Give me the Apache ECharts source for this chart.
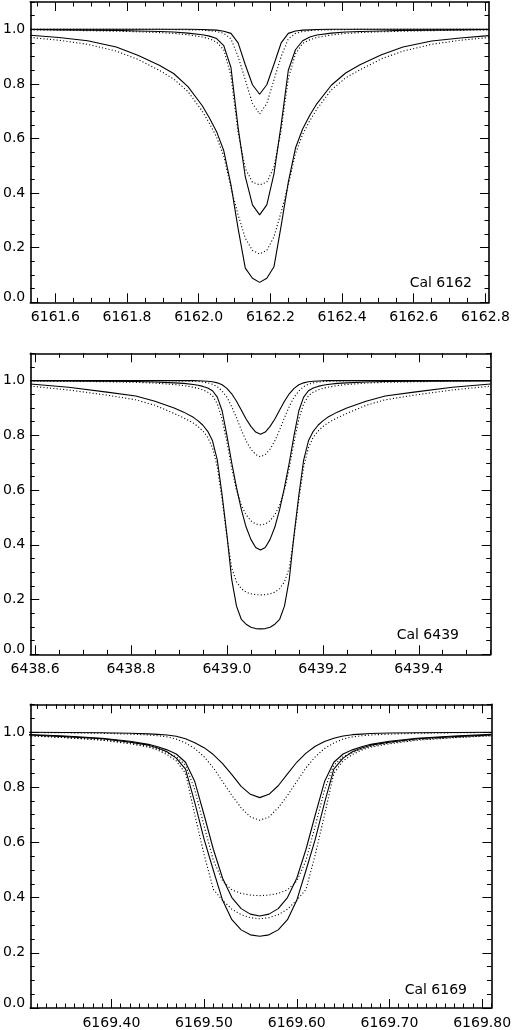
<!DOCTYPE html>
<html><head><meta charset="utf-8">
<script src="https://cdn.jsdelivr.net/npm/echarts@6/dist/echarts.min.js"></script>
<style>html,body{margin:0;padding:0;background:#fff}#c{width:514px;height:1030px}</style>
</head><body><div id="c"></div>
<script>
// ---------- Panel 1: Cal 6162 ----------
const cal6162Wave = [6161.53, 6161.61, 6161.69, 6161.77, 6161.83, 6161.89, 6161.93, 6161.97, 6162.01, 6162.03, 6162.05, 6162.07, 6162.09, 6162.11, 6162.13, 6162.15, 6162.17, 6162.19, 6162.21, 6162.23, 6162.25, 6162.27, 6162.29, 6162.31, 6162.33, 6162.37, 6162.41, 6162.45, 6162.51, 6162.57, 6162.65, 6162.73, 6162.81];
const cal6162SolidA = [1.000,1.000,1.000,1.000,1.000,1.000,1.000,1.000, 0.999,0.998,0.997,0.993,0.985,0.950,0.870,0.797, 0.762, 0.797,0.872,0.950,0.985,0.994,0.997,0.998,0.999, 1.000,1.000,1.000,1.000,1.000,1.000,1.000,1.000];
const cal6162DottedA = [1.000,1.000,1.000,1.000,1.000,1.000,0.999,0.998, 0.997,0.995,0.992,0.985,0.965,0.900,0.815,0.728, 0.690, 0.728,0.815,0.900,0.965,0.985,0.992,0.995,0.997, 0.998,0.999,1.000,1.000,1.000,1.000,1.000,1.000];
const cal6162SolidB = [0.999,0.998,0.997,0.996,0.994,0.992,0.990,0.986, 0.980,0.975,0.966,0.940,0.860,0.640,0.460,0.357, 0.320, 0.357,0.470,0.650,0.850,0.925,0.958,0.972,0.979, 0.986,0.990,0.992,0.994,0.996,0.997,0.998,0.999];
const cal6162DottedB = [0.998,0.997,0.995,0.993,0.991,0.988,0.985,0.980, 0.972,0.965,0.953,0.925,0.830,0.620,0.490,0.440, 0.430, 0.440,0.495,0.630,0.820,0.910,0.948,0.962,0.970, 0.979,0.985,0.988,0.991,0.993,0.995,0.997,0.998];
const cal6162SolidC = [0.978,0.970,0.958,0.935,0.905,0.868,0.838,0.790, 0.720,0.675,0.625,0.555,0.430,0.270,0.125,0.088, 0.073, 0.088,0.130,0.280,0.440,0.565,0.635,0.685,0.728, 0.795,0.840,0.870,0.907,0.935,0.957,0.968,0.977];
const cal6162DottedC = [0.970,0.960,0.945,0.920,0.890,0.850,0.818,0.772, 0.700,0.655,0.605,0.535,0.420,0.320,0.235,0.190, 0.177, 0.190,0.240,0.330,0.430,0.545,0.615,0.665,0.708, 0.778,0.822,0.852,0.892,0.920,0.945,0.960,0.970];
const cal6162XTicks = [6161.6, 6161.8, 6162.0, 6162.2, 6162.4, 6162.6, 6162.8];

// ---------- Panel 2: Cal 6439 ----------
const cal6439Wave = [6438.59, 6438.67, 6438.75, 6438.81, 6438.85, 6438.89, 6438.91, 6438.93, 6438.94, 6438.95, 6438.96, 6438.97, 6438.98, 6438.99, 6439.00, 6439.01, 6439.02, 6439.03, 6439.04, 6439.05, 6439.06, 6439.07, 6439.08, 6439.09, 6439.10, 6439.11, 6439.12, 6439.13, 6439.14, 6439.15, 6439.16, 6439.17, 6439.18, 6439.19, 6439.20, 6439.21, 6439.23, 6439.25, 6439.29, 6439.33, 6439.39, 6439.47, 6439.55];
const cal6439SolidA = [1,1,1,1,1,1,1, 1.000,0.9995,0.999,0.998,0.996,0.992,0.985,0.972,0.952,0.925,0.893,0.860,0.833,0.812, 0.804, 0.812,0.833,0.860,0.893,0.925,0.952,0.972,0.985,0.992,0.996,0.998,0.999,0.9995,1.000, 1,1,1,1,1,1,1];
const cal6439DottedA = [1,1,1,1,1,0.9995,0.999, 0.998,0.997,0.995,0.992,0.987,0.978,0.962,0.940,0.905,0.865,0.820,0.780,0.750,0.730, 0.722, 0.730,0.750,0.780,0.820,0.865,0.905,0.940,0.962,0.978,0.987,0.992,0.995,0.997,0.998, 0.999,0.9995,1,1,1,1,1];
const cal6439SolidB = [1.000,0.999,0.998,0.997,0.995,0.992,0.990, 0.986,0.983,0.979,0.973,0.963,0.940,0.890,0.800,0.700,0.610,0.530,0.465,0.420,0.390, 0.381, 0.390,0.420,0.465,0.530,0.610,0.700,0.800,0.890,0.940,0.963,0.973,0.979,0.983,0.986, 0.990,0.992,0.995,0.997,0.998,0.999,1.000];
const cal6439DottedB = [0.999,0.998,0.996,0.994,0.991,0.986,0.982, 0.976,0.972,0.966,0.958,0.945,0.915,0.860,0.775,0.680,0.600,0.545,0.510,0.488,0.476, 0.473, 0.476,0.488,0.510,0.545,0.600,0.680,0.775,0.860,0.915,0.945,0.958,0.966,0.972,0.976, 0.982,0.986,0.991,0.994,0.996,0.998,0.999];
const cal6439SolidC = [0.988,0.976,0.958,0.944,0.925,0.900,0.885, 0.866,0.853,0.837,0.815,0.780,0.710,0.582,0.437,0.274,0.176,0.128,0.110,0.099,0.094, 0.093, 0.094,0.099,0.110,0.128,0.176,0.274,0.437,0.582,0.710,0.780,0.815,0.837,0.853,0.866, 0.885,0.900,0.925,0.944,0.958,0.976,0.988];
const cal6439DottedC = [0.980,0.966,0.947,0.930,0.910,0.880,0.864, 0.845,0.832,0.816,0.793,0.755,0.685,0.565,0.430,0.315,0.265,0.240,0.227,0.221,0.218, 0.217, 0.218,0.221,0.227,0.240,0.265,0.315,0.430,0.565,0.685,0.755,0.793,0.816,0.832,0.845, 0.864,0.880,0.910,0.930,0.947,0.966,0.980];
const cal6439XTicks = [6438.6, 6438.8, 6439.0, 6439.2, 6439.4];

// ---------- Panel 3: Cal 6169 ----------
const cal6169Wave = [6169.31, 6169.35, 6169.39, 6169.42, 6169.44, 6169.45, 6169.46, 6169.47, 6169.48, 6169.49, 6169.50, 6169.51, 6169.52, 6169.53, 6169.54, 6169.55, 6169.56, 6169.57, 6169.58, 6169.59, 6169.60, 6169.61, 6169.62, 6169.63, 6169.64, 6169.65, 6169.66, 6169.67, 6169.68, 6169.70, 6169.73, 6169.77, 6169.81];
const cal6169SolidA = [0.999,0.998,0.997,0.995, 0.993,0.991,0.989,0.984,0.975,0.961,0.943,0.918,0.885,0.845,0.803,0.774, 0.762, 0.774,0.805,0.848,0.890,0.923,0.948,0.965,0.977,0.985,0.990,0.992,0.994, 0.996,0.997,0.998,0.999];
const cal6169DottedA = [0.998,0.997,0.995,0.992, 0.989,0.986,0.982,0.974,0.960,0.940,0.910,0.870,0.820,0.770,0.725,0.692, 0.680, 0.692,0.725,0.770,0.820,0.870,0.910,0.940,0.960,0.974,0.982,0.986,0.989, 0.992,0.995,0.997,0.998];
const cal6169SolidB = [0.991,0.985,0.977,0.966, 0.955,0.946,0.935,0.920,0.890,0.820,0.700,0.575,0.470,0.400,0.360,0.340, 0.333, 0.340,0.360,0.400,0.470,0.575,0.700,0.820,0.890,0.920,0.935,0.946,0.955, 0.966,0.977,0.985,0.991];
const cal6169DottedB = [0.987,0.980,0.972,0.960, 0.948,0.938,0.925,0.910,0.880,0.790,0.660,0.535,0.460,0.428,0.415,0.409, 0.407, 0.409,0.415,0.428,0.460,0.535,0.660,0.790,0.880,0.910,0.925,0.938,0.948, 0.960,0.972,0.980,0.987];
const cal6169SolidC = [0.989,0.983,0.975,0.963, 0.952,0.942,0.928,0.905,0.865,0.744,0.612,0.499,0.390,0.320,0.283,0.265, 0.260, 0.265,0.283,0.320,0.390,0.499,0.612,0.744,0.865,0.905,0.928,0.942,0.952, 0.963,0.975,0.983,0.989];
const cal6169DottedC = [0.986,0.979,0.970,0.957, 0.945,0.934,0.918,0.895,0.850,0.700,0.556,0.430,0.390,0.358,0.338,0.327, 0.323, 0.327,0.338,0.358,0.390,0.430,0.556,0.700,0.850,0.895,0.918,0.934,0.945, 0.957,0.970,0.979,0.986];
const cal6169XTicks = [6169.40, 6169.50, 6169.60, 6169.70, 6169.80];

// ---------- shared y ticks ----------
const yTicks = [0.0, 0.2, 0.4, 0.6, 0.8, 1.0];

const FONT = '"DejaVu Sans", Verdana, sans-serif';
const FS = 14;
function minorList(min, max, step) {
  const out = [];
  const k0 = Math.ceil(min / step - 1e-6), k1 = Math.floor(max / step + 1e-6);
  for (let k = k0; k <= k1; k++) out.push(+(k * step).toFixed(4));
  return out;
}

const panels = [
  { grid: {left: 26, top: 2, width: 463, height: 300.3}, xmin: 6161.53, xmax: 6162.81, xTicks: cal6162XTicks, xStep: 0.05, digits: 1,
    label: 'Cal 6162', lx: 472, ly: 283.5, wave: cal6162Wave,
    solid: [cal6162SolidA, cal6162SolidB, cal6162SolidC], dotted: [cal6162DottedA, cal6162DottedB, cal6162DottedC] },
  { grid: {left: 26, top: 353.3, width: 464.7, height: 301}, xmin: 6438.59, xmax: 6439.55, xTicks: cal6439XTicks, xStep: 0.05, digits: 1,
    label: 'Cal 6439', lx: 459, ly: 635, wave: cal6439Wave,
    solid: [cal6439SolidA, cal6439SolidB, cal6439SolidC], dotted: [cal6439DottedA, cal6439DottedB, cal6439DottedC] },
  { grid: {left: 26, top: 704.3, width: 467.3, height: 305.7}, xmin: 6169.3125, xmax: 6169.81, xTicks: cal6169XTicks, xStep: 0.01, digits: 2,
    label: 'Cal 6169', lx: 467, ly: 990, wave: cal6169Wave,
    solid: [cal6169SolidA, cal6169SolidB, cal6169SolidC], dotted: [cal6169DottedA, cal6169DottedB, cal6169DottedC] }
];

const grids = [], xAxes = [], yAxes = [], series = [], graphics = [];
const lineCol = '#000';
panels.forEach((p, g) => {
  grids.push(p.grid);
  const xMinor = minorList(p.xmin, p.xmax, p.xStep);
  const yMinor = minorList(0, 1.1, 0.05);
  const base = (pos, min, max) => ({
    type: 'value', gridIndex: g, position: pos, min: min, max: max,
    splitLine: {show: false}, axisLabel: {show: false},
    axisLine: {show: false, onZero: false},
    axisTick: {show: false}
  });
  // x axes
  const xMain = base('bottom', p.xmin, p.xmax);
  xMain.axisLine = {show: true, onZero: false, lineStyle: {color: lineCol, width: 1.6}};
  xMain.axisTick = {show: true, inside: true, length: 9, customValues: p.xTicks, lineStyle: {color: lineCol, width: 1}};
  xMain.axisLabel = {show: true, customValues: p.xTicks, margin: 8, color: '#000', fontSize: FS, fontFamily: FONT,
    formatter: (v) => Number(v).toFixed(p.digits)};
  const xMinorB = base('bottom', p.xmin, p.xmax);
  xMinorB.axisTick = {show: true, inside: true, length: 4.5, customValues: xMinor, lineStyle: {color: lineCol, width: 1}};
  const xTop = base('top', p.xmin, p.xmax);
  xTop.axisLine = {show: true, onZero: false, lineStyle: {color: lineCol, width: 1.6}};
  xTop.axisTick = {show: true, inside: true, length: 9, customValues: p.xTicks, lineStyle: {color: lineCol, width: 1}};
  const xMinorT = base('top', p.xmin, p.xmax);
  xMinorT.axisTick = {show: true, inside: true, length: 4.5, customValues: xMinor, lineStyle: {color: lineCol, width: 1}};
  const xIdx = xAxes.length;
  xAxes.push(xMain, xMinorB, xTop, xMinorT);
  // y axes
  const yMain = base('left', 0, 1.1);
  yMain.axisLine = {show: true, onZero: false, lineStyle: {color: lineCol, width: 1.6}};
  yMain.axisTick = {show: true, inside: true, length: 9, customValues: yTicks, lineStyle: {color: lineCol, width: 1}};
  yMain.axisLabel = {show: true, customValues: yTicks, margin: 5, color: '#000', fontSize: FS, fontFamily: FONT,
    formatter: (v) => Number(v) === 0 ? '{z|0.0}' : Number(v).toFixed(1),
    rich: {z: {color: '#000', fontSize: FS, fontFamily: FONT, padding: [0, 0, 9, 0]}}};
  const yMinorL = base('left', 0, 1.1);
  yMinorL.axisTick = {show: true, inside: true, length: 4.5, customValues: yMinor, lineStyle: {color: lineCol, width: 1}};
  const yRight = base('right', 0, 1.1);
  yRight.axisLine = {show: true, onZero: false, lineStyle: {color: lineCol, width: 1.6}};
  yRight.axisTick = {show: true, inside: true, length: 9, customValues: yTicks, lineStyle: {color: lineCol, width: 1}};
  const yMinorR = base('right', 0, 1.1);
  yMinorR.axisTick = {show: true, inside: true, length: 4.5, customValues: yMinor, lineStyle: {color: lineCol, width: 1}};
  const yIdx = yAxes.length;
  yAxes.push(yMain, yMinorL, yRight, yMinorR);

  const mk = (vals, dotted) => ({
    type: 'line', xAxisIndex: xIdx, yAxisIndex: yIdx, symbol: 'none', showSymbol: false,
    silent: true, clip: true, animation: false,
    lineStyle: dotted ? {color: '#000', width: 1.1, type: [1.1, 2.2]} : {color: '#000', width: 1.1},
    data: p.wave.map((x, i) => [x, vals[i]])
  });
  p.solid.forEach(v => series.push(mk(v, false)));
  p.dotted.forEach(v => series.push(mk(v, true)));

  graphics.push({type: 'text', x: p.lx, y: p.ly, silent: true,
    style: {text: p.label, fill: '#000', font: FS + 'px ' + FONT, align: 'right', verticalAlign: 'middle'}});
});

const chart = echarts.init(document.getElementById('c'), null, {renderer: 'canvas'});
chart.setOption({
  backgroundColor: '#fff',
  animation: false,
  grid: grids,
  xAxis: xAxes,
  yAxis: yAxes,
  series: series,
  graphic: graphics
});
</script></body></html>
